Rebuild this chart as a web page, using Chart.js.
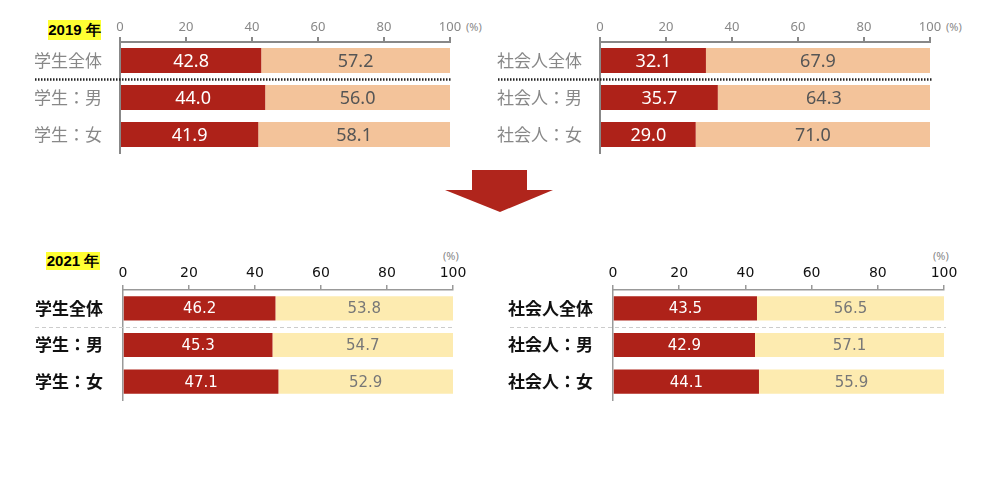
<!DOCTYPE html>
<html>
<head>
<meta charset="utf-8">
<script src="https://cdn.jsdelivr.net/npm/chart.js@4.4.1/dist/chart.umd.min.js"></script>
<style>
  body { margin: 0; background: #fff; }
  #page { position: relative; width: 1000px; height: 495px; overflow: hidden; }
  .box { position: absolute; }
  .year { position: absolute; background: #ffff33; color: #000; font: bold 15px "Liberation Sans", sans-serif; text-align: center; }
  .pct { position: absolute; color: #888; font: 11px "Noto Sans", sans-serif; }
  #arrow { position: absolute; left: 445px; top: 170px; width: 108px; height: 42px; background: #b0251c;
    clip-path: polygon(27px 0, 82px 0, 82px 20px, 108px 20px, 55px 42px, 0 20px, 27px 20px); }
</style>
</head>
<body>
<div id="page">
  <div class="year" style="left:48px;top:20px;width:53px;height:20px;line-height:20px;">2019 年</div>
  <div class="year" style="left:46px;top:252px;width:54px;height:18px;line-height:18px;">2021 年</div>
  <span class="pct" style="left:466px;top:19px;">(%)</span>
  <span class="pct" style="left:946px;top:19px;">(%)</span>
  <span class="pct" style="left:443px;top:248px;">(%)</span>
  <span class="pct" style="left:933px;top:248px;">(%)</span>
  <div id="arrow"></div>
  <div class="box" style="left:0;top:0;width:480px;height:160px;"><canvas id="s2019"></canvas></div>
  <div class="box" style="left:480px;top:0;width:520px;height:160px;"><canvas id="w2019"></canvas></div>
  <div class="box" style="left:0;top:240px;width:480px;height:170px;"><canvas id="s2021"></canvas></div>
  <div class="box" style="left:480px;top:240px;width:520px;height:170px;"><canvas id="w2021"></canvas></div>
</div>
<script>
const studentLabels = ["学生全体", "学生：男", "学生：女"];
const workerLabels = ["社会人全体", "社会人：男", "社会人：女"];
const xTicks = [0, 20, 40, 60, 80, 100];

const student2019Red = [42.8, 44.0, 41.9];
const student2019Rest = [57.2, 56.0, 58.1];
const worker2019Red = [32.1, 35.7, 29.0];
const worker2019Rest = [67.9, 64.3, 71.0];

const student2021Red = [46.2, 45.3, 47.1];
const student2021Rest = [53.8, 54.7, 52.9];
const worker2021Red = [43.5, 42.9, 44.1];
const worker2021Rest = [56.5, 57.1, 55.9];

// writes the value in the middle of each bar piece
const barValues = {
  id: "barValues",
  afterDatasetsDraw(chart, args, opts) {
    const ctx = chart.ctx;
    ctx.save();
    ctx.font = opts.font;
    ctx.textAlign = "center";
    ctx.textBaseline = "middle";
    chart.data.datasets.forEach((ds, i) => {
      ctx.fillStyle = opts.colors[i];
      chart.getDatasetMeta(i).data.forEach((bar, j) => {
        const p = bar.getCenterPoint();
        ctx.fillText(ds.data[j].toFixed(1), p.x, p.y + 1);
      });
    });
    ctx.restore();
  }
};

// line between the total row and the gender rows
const separator = {
  id: "separator",
  afterDatasetsDraw(chart, args, opts) {
    const y = chart.scales.y;
    const pos = Math.round((y.getPixelForValue(0) + y.getPixelForValue(1)) / 2) + 0.5;
    const ctx = chart.ctx;
    ctx.save();
    ctx.strokeStyle = opts.color;
    ctx.lineWidth = opts.width;
    ctx.setLineDash(opts.dash);
    ctx.beginPath();
    ctx.moveTo(opts.x0, pos);
    ctx.lineTo(chart.chartArea.right + 2, pos);
    ctx.stroke();
    ctx.restore();
  }
};

const makeChart = (id, labels, red, rest, s) => {
  new Chart(document.getElementById(id), {
    type: "bar",
    data: {
      labels: labels,
      datasets: [
        { data: red, backgroundColor: "#ae2219" },
        { data: rest, backgroundColor: s.restColor }
      ]
    },
    options: {
      indexAxis: "y",
      responsive: true,
      maintainAspectRatio: false,
      animation: false,
      events: [],
      datasets: { bar: { categoryPercentage: 1, barPercentage: s.barPct } },
      layout: { padding: { left: 0, top: 0, right: s.padRight, bottom: s.padBottom } },
      plugins: {
        legend: { display: false },
        tooltip: { enabled: false },
        barValues: { font: s.valueFont, colors: ["#fff", s.restText] },
        separator: s.sep
      },
      scales: {
        x: {
          position: "top",
          stacked: true,
          min: 0,
          max: 100,
          afterBuildTicks: (scale) => { scale.ticks = xTicks.map((v) => ({ value: v })); },
          afterFit: (scale) => { scale.height = s.axisTop; },
          grid: { drawOnChartArea: false, drawTicks: true, tickLength: 5, color: s.axisColor, lineWidth: s.axisWidth },
          border: { display: true, color: s.axisColor, width: s.axisWidth },
          ticks: { color: s.tickColor, font: s.tickFont, padding: s.tickPad, maxRotation: 0 }
        },
        y: {
          stacked: true,
          afterFit: (scale) => {
            scale.width = s.axisLeft;
            scale.paddingTop = 0;
            scale.paddingBottom = 0;
          },
          grid: { display: false },
          border: { display: true, color: s.axisColor, width: s.axisWidth },
          ticks: { color: s.labelColor, font: s.labelFont, padding: s.labelPad }
        }
      }
    },
    plugins: [barValues, separator]
  });
};

const style2019 = {
  restColor: "#f3c39a",
  restText: "#555",
  barPct: 0.68,
  padBottom: 7,
  axisTop: 42,
  axisColor: "#888",
  axisWidth: 2,
  tickColor: "#888",
  tickFont: { family: "Noto Sans", size: 13 },
  tickPad: 2,
  labelColor: "#888",
  labelFont: { family: "Noto Sans CJK JP", size: 17 },
  labelPad: 10,
  valueFont: "18px 'Noto Sans', sans-serif"
};
const style2021 = {
  restColor: "#fdebb0",
  restText: "#777",
  barPct: 0.66,
  padBottom: 10,
  axisTop: 50,
  axisColor: "#999",
  axisWidth: 1.5,
  tickColor: "#111",
  tickFont: { family: "DejaVu Sans", size: 14 },
  tickPad: 3,
  labelColor: "#111",
  labelFont: { family: "Noto Sans CJK JP", size: 17, weight: "bold" },
  labelPad: 12,
  valueFont: "15px 'DejaVu Sans', sans-serif"
};

makeChart("s2019", studentLabels, student2019Red, student2019Rest, {
  ...style2019, padRight: 30, axisLeft: 120,
  sep: { x0: 35, color: "#222", width: 2.5, dash: [1.5, 1.5] }
});
makeChart("w2019", workerLabels, worker2019Red, worker2019Rest, {
  ...style2019, padRight: 70, axisLeft: 120,
  sep: { x0: 18, color: "#222", width: 2.5, dash: [1.5, 1.5] }
});
makeChart("s2021", studentLabels, student2021Red, student2021Rest, {
  ...style2021, padRight: 27, axisLeft: 123,
  sep: { x0: 35, color: "#ccc", width: 1, dash: [4, 3] }
});
makeChart("w2021", workerLabels, worker2021Red, worker2021Rest, {
  ...style2021, padRight: 56, axisLeft: 133,
  sep: { x0: 30, color: "#ccc", width: 1, dash: [4, 3] }
});
</script>
</body>
</html>
